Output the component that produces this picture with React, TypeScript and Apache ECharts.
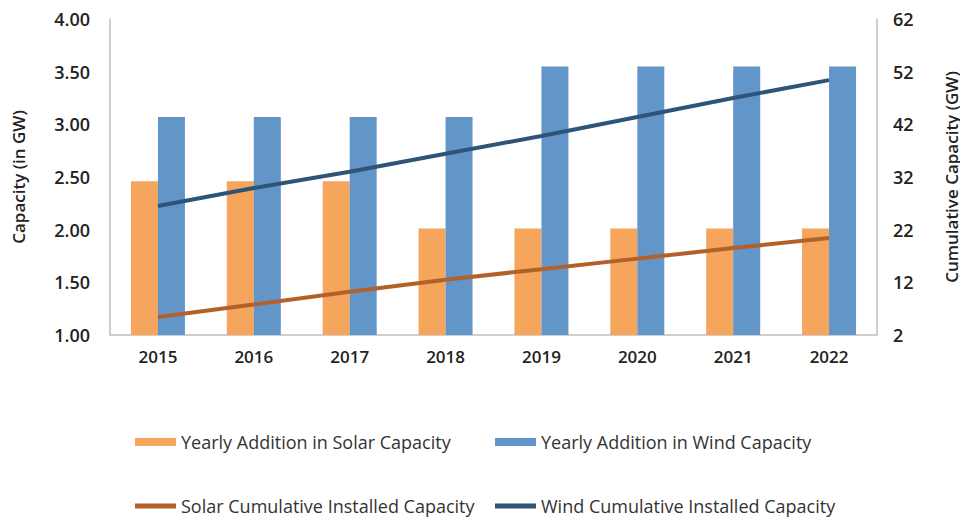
import React, { useEffect, useRef } from "react";
import * as echarts from "echarts";

const years = ["2015", "2016", "2017", "2018", "2019", "2020", "2021", "2022"];
const solarYearly = [2.46, 2.46, 2.46, 2.01, 2.01, 2.01, 2.01, 2.01];
const windYearly = [3.07, 3.07, 3.07, 3.07, 3.55, 3.55, 3.55, 3.55];
const solarCumulative = [5.4, 7.8, 10.2, 12.5, 14.5, 16.5, 18.5, 20.4];
const windCumulative = [26.5, 29.9, 33.0, 36.4, 39.8, 43.4, 47.0, 50.4];
const leftTicks = { min: 1, max: 4, interval: 0.5 };
const rightTicks = { min: 2, max: 62, interval: 10 };

const names = {
  sy: "Yearly Addition in Solar Capacity",
  wy: "Yearly Addition in Wind Capacity",
  sc: "Solar Cumulative Installed Capacity",
  wc: "Wind Cumulative Installed Capacity",
};

const FONT = "'Open Sans', sans-serif";
const axisGray = "#BFBFBF";

export default function App() {
  const ref = useRef<HTMLDivElement>(null);
  useEffect(() => {
    if (!ref.current) return;
    const chart = echarts.init(ref.current, undefined, { renderer: "svg" });
    const legendText = { fontFamily: FONT, fontSize: 18, color: "#333", lineHeight: 18 };
    const mkLegend = (name: string, left: number, top: number, isLine: boolean) => ({
      data: [name],
      left,
      top,
      itemWidth: 41,
      itemHeight: isLine ? 5 : 8,
      itemGap: 4,
      icon: "rect",
      textStyle: legendText,
      selectedMode: false,
    });
    const tickFont = { fontFamily: FONT, fontSize: 17, fontWeight: 600, color: "#222" };
    const nameFont = { fontFamily: FONT, fontSize: 17, fontWeight: 600, color: "#222" };
    chart.setOption({
      animation: false,
      backgroundColor: "#fff",
      textStyle: { fontFamily: FONT },
      grid: { left: 110, right: 83, top: 19, bottom: 183, outerBoundsMode: "none", containLabel: false },
      legend: [
        mkLegend(names.sy, 130, 428, false),
        mkLegend(names.wy, 490, 428, false),
        mkLegend(names.sc, 130, 492, true),
        mkLegend(names.wc, 490, 492, true),
      ],
      xAxis: {
        type: "category",
        data: years,
        axisLine: { lineStyle: { color: axisGray, width: 1.5 } },
        axisTick: { show: false },
        axisLabel: { ...tickFont, margin: 13 },
      },
      yAxis: [
        {
          type: "value",
          min: leftTicks.min,
          max: leftTicks.max,
          interval: leftTicks.interval,
          name: "Capacity (in GW)",
          nameLocation: "middle",
          nameGap: 83,
          nameTextStyle: nameFont,
          axisLine: { show: true, lineStyle: { color: axisGray, width: 1.5 } },
          axisTick: { show: false },
          splitLine: { show: false },
          axisLabel: {
            ...tickFont,
            fontSize: 18,
            margin: 20,
            formatter: (v: number) => v.toFixed(2),
          },
        },
        {
          type: "value",
          min: rightTicks.min,
          max: rightTicks.max,
          interval: rightTicks.interval,
          position: "right",
          name: "Cumulative Capacity (GW)",
          nameLocation: "middle",
          nameRotate: 90,
          nameGap: 66,
          nameTextStyle: nameFont,
          axisLine: { show: true, lineStyle: { color: axisGray, width: 1.5 } },
          axisTick: { show: false },
          splitLine: { show: false },
          axisLabel: { ...tickFont, fontSize: 18, margin: 16 },
        },
      ],
      series: [
        {
          name: names.sy,
          type: "bar",
          data: solarYearly,
          barWidth: 27,
          barGap: "0%",
          itemStyle: { color: "#F6A55C" },
          yAxisIndex: 0,
        },
        {
          name: names.wy,
          type: "bar",
          data: windYearly,
          barWidth: 27,
          barGap: "0%",
          itemStyle: { color: "#6296C9" },
          yAxisIndex: 0,
        },
        {
          name: names.sc,
          type: "line",
          data: solarCumulative,
          yAxisIndex: 1,
          showSymbol: false,
          symbol: "none",
          lineStyle: { color: "#B2612A", width: 4 },
          itemStyle: { color: "#B2612A" },
        },
        {
          name: names.wc,
          type: "line",
          data: windCumulative,
          yAxisIndex: 1,
          showSymbol: false,
          symbol: "none",
          lineStyle: { color: "#2E5478", width: 4 },
          itemStyle: { color: "#2E5478" },
        },
      ],
    });
    return () => chart.dispose();
  }, []);
  return <div ref={ref} style={{ width: 960, height: 518, position: "absolute", left: 0, top: 0 }} />;
}
